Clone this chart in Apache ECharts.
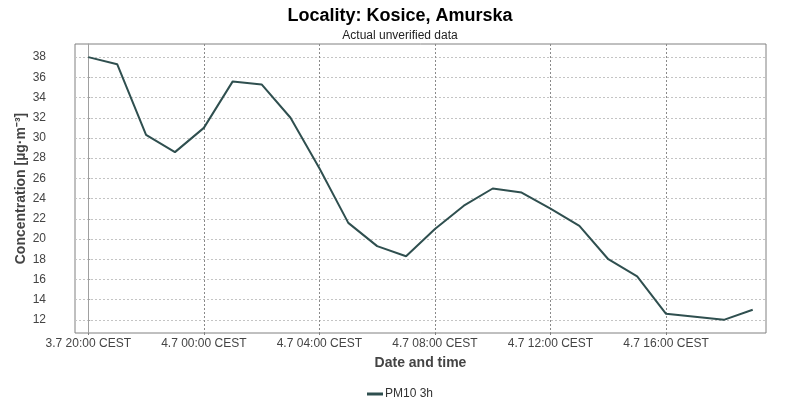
<!DOCTYPE html>
<html>
<head>
<meta charset="utf-8">
<script src="https://cdn.jsdelivr.net/npm/echarts@6/dist/echarts.min.js"></script>
<style>
html,body{margin:0;padding:0;background:#fff;}
#chart{width:800px;height:400px;}
</style>
</head>
<body>
<div id="chart"></div>
<script>
// Hours after 3.7 20:00 CEST
const hours = [0,1,2,3,4,5,6,7,8,9,10,11,12,13,14,15,16,17,18,19,20,21,22,23];
const pm10 = [38.0,37.3,30.3,28.6,31.0,35.6,35.3,32.0,27.0,21.6,19.3,18.3,21.0,23.3,25.0,24.6,23.0,21.3,18.0,16.3,12.6,12.3,12.0,13.0];
const xTickValues = [0,4,8,12,16,20];
const xTickLabels = ['3.7 20:00 CEST','4.7 00:00 CEST','4.7 04:00 CEST','4.7 08:00 CEST','4.7 12:00 CEST','4.7 16:00 CEST'];
const yTickValues = [12,14,16,18,20,22,24,26,28,30,32,34,36,38];
const seriesName = 'PM10 3h';

const chart = echarts.init(document.getElementById('chart'), null, {renderer:'canvas'});
const font = 'Liberation Sans, Arial, sans-serif';
const data = hours.map((h,i)=>[h,pm10[i]]);
const xSpan = hours[hours.length-1]-hours[0];
const yMinD = Math.min.apply(null,pm10), yMaxD = Math.max.apply(null,pm10);
const ySpan = yMaxD-yMinD;

chart.setOption({
  animation:false,
  textStyle:{fontFamily:font},
  title:{
    text:'Locality: Kosice, Amurska',
    subtext:'Actual unverified data',
    left:'center', top:2, itemGap:5,
    textStyle:{fontFamily:font,fontSize:18,fontWeight:'bold',color:'#000'},
    subtextStyle:{fontFamily:font,fontSize:12,color:'#222'}
  },
  legend:{
    top:383, left:'center',
    itemWidth:16, itemHeight:3, itemGap:10,
    textStyle:{fontFamily:font,fontSize:12,color:'#333',padding:[0,0,0,-3]},
    data:[{name:seriesName,icon:'rect'}]
  },
  grid:{left:75,right:34,top:44,bottom:67,outerBoundsMode:'none',containLabel:false,show:true,borderColor:'#808080',borderWidth:1,backgroundColor:'#fff'},
  xAxis:{
    type:'value',
    min:hours[0]-xSpan*0.02,
    max:hours[hours.length-1]+xSpan*0.02,
    name:'Date and time',
    nameLocation:'middle', nameGap:23,
    nameTextStyle:{fontFamily:font,fontSize:14,fontWeight:'bold',color:'#444'},
    axisLine:{show:false},
    axisTick:{show:true,length:2,customValues:xTickValues,lineStyle:{color:'#808080'}},
    axisLabel:{
      customValues:xTickValues, margin:5,
      fontFamily:font,fontSize:12,color:'#444',
      formatter:function(v){const i=xTickValues.indexOf(v);return i>=0?xTickLabels[i]:'';}
    },
    splitLine:{show:true,lineStyle:{color:'#8a8a8a',type:[2,2],width:1}}
  },
  yAxis:{
    type:'value',
    min:yMinD-ySpan*0.05,
    max:yMaxD+ySpan*0.05,
    offset:23,
    name:'Concentration [µg·m⁻³]',
    nameLocation:'middle', nameGap:24, nameMoveOverlap:false,
    nameTextStyle:{fontFamily:font,fontSize:14,fontWeight:'bold',color:'#444'},
    axisLine:{show:true,lineStyle:{color:'#a0a0a0'}},
    axisTick:{show:true,length:2,inside:true,customValues:yTickValues,lineStyle:{color:'#a0a0a0'}},
    axisLabel:{customValues:yTickValues,margin:6,fontFamily:font,fontSize:12,color:'#444'},
    splitLine:{show:true,lineStyle:{color:'#c4c4c4',type:[2,2],width:1}}
  },
  series:[{
    name:seriesName,
    type:'line',
    data:data,
    symbol:'none',
    color:'#2f4f4f',
    lineStyle:{color:'#2f4f4f',width:2}
  }]
});
</script>
</body>
</html>
